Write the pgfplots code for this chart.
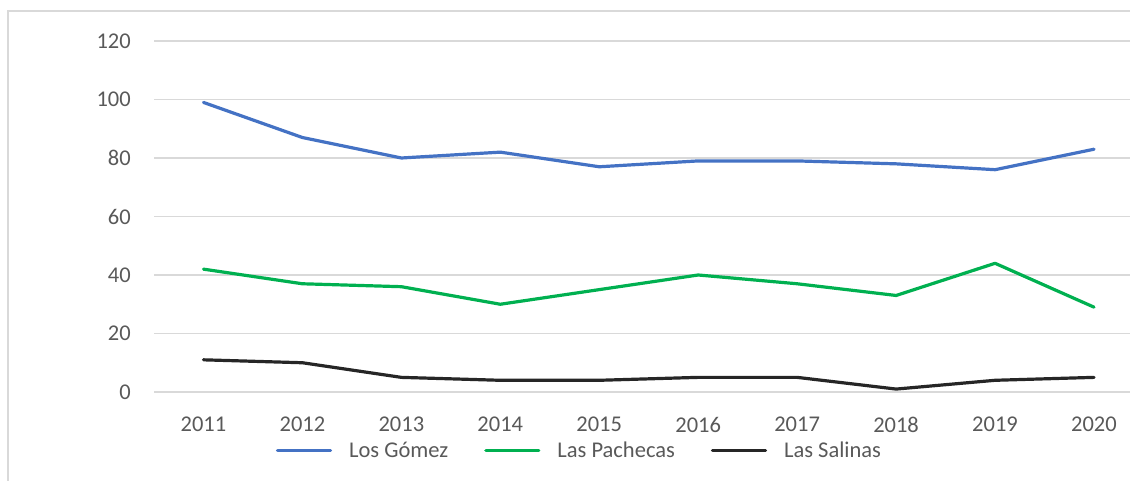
\documentclass[border=0pt]{standalone}
\usepackage{fontspec}
\setmainfont{Carlito}
\usepackage{pgfplots}
\pgfplotsset{compat=1.18}
\definecolor{cblue}{HTML}{4472C4}
\definecolor{cgreen}{HTML}{00B050}
\definecolor{cblack}{HTML}{262626}
\definecolor{tgray}{HTML}{595959}
\definecolor{ggray}{HTML}{D9D9D9}
\begin{document}
\begin{tikzpicture}[x=1pt,y=1pt]
\useasboundingbox (0,0) rectangle (1130,481);
\clip (0,0) rectangle (1130,481);
\draw[ggray, line width=1.3pt] (8,470) rectangle (1300,-100);
\begin{axis}[
  at={(154pt,89pt)}, anchor=south west,
  scale only axis, width=989.5pt, height=351pt,
  xmin=2010.5, xmax=2020.5, ymin=0, ymax=120,
  xtick={2011,...,2020},
  xticklabels={2011,2012,2013,2014,2015,2016,2017,2018,2019,2020},
  ytick={0,20,...,120},
  /pgf/number format/assume math mode=true,
  axis line style={draw=none},
  major tick length=0pt,
  ymajorgrids, grid style={ggray, line width=1.3pt},
  tick label style={font=\fontsize{22.5}{27}\selectfont, text=tgray, inner sep=0pt},
  yticklabel style={xshift=-23pt},
  xticklabel style={yshift=-25pt},
  clip=false,
  legend columns=3,
  legend style={at={(0.429,-0.1672)}, anchor=center, draw=none, fill=none,
    font=\fontsize{22.5}{27}\selectfont, text=tgray,
    nodes={inner sep=0pt},
    /tikz/every odd column/.append style={column sep=17pt},
    /tikz/every even column/.append style={column sep=36pt}},
  legend image code/.code={\draw[#1, line cap=round] (0pt,0pt) -- (53pt,0pt);},
  every axis plot/.append style={line width=3.2pt, line join=round, line cap=round},
]
\addplot[cblue] coordinates {(2011,99)(2012,87)(2013,80)(2014,82)(2015,77)(2016,79)(2017,79)(2018,78)(2019,76)(2020,83)};
\addlegendentry{Los Gómez}
\addplot[cgreen] coordinates {(2011,42)(2012,37)(2013,36)(2014,30)(2015,35)(2016,40)(2017,37)(2018,33)(2019,44)(2020,29)};
\addlegendentry{Las Pachecas}
\addplot[cblack] coordinates {(2011,11)(2012,10)(2013,5)(2014,4)(2015,4)(2016,5)(2017,5)(2018,1)(2019,4)(2020,5)};
\addlegendentry{Las Salinas}
\end{axis}
\end{tikzpicture}
\end{document}
